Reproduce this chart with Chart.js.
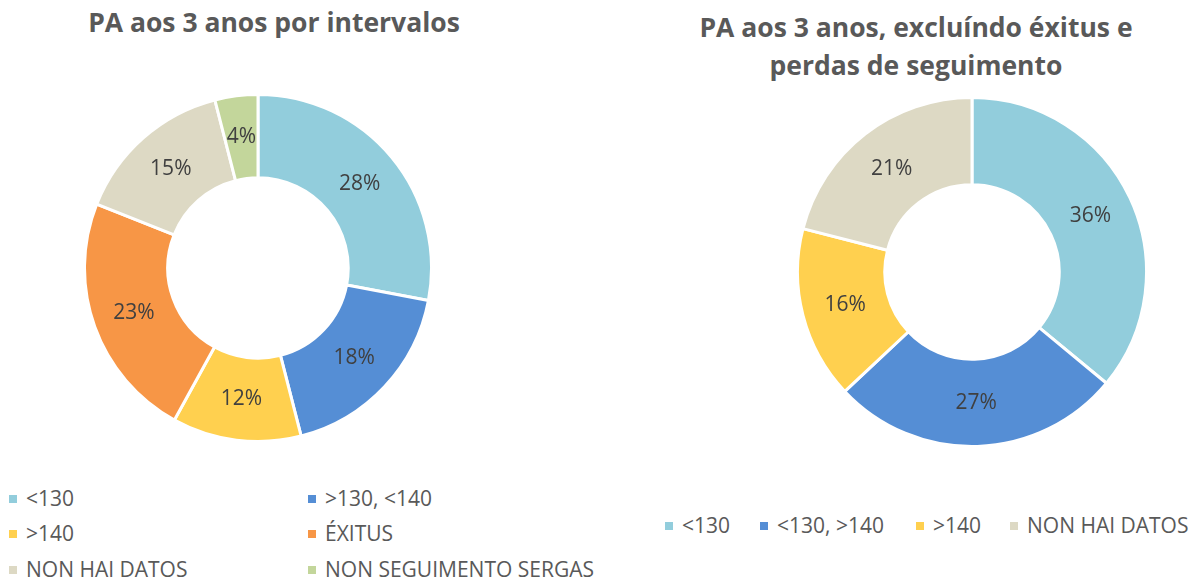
<!DOCTYPE html>
<html>
<head>
<meta charset="utf-8">
<script src="https://cdn.jsdelivr.net/npm/chart.js@4"></script>
<style>
  body { margin: 0; background: #fff; width: 1189px; height: 579px; position: relative; overflow: hidden;
         font-family: "Open Sans", "Noto Sans", sans-serif; color: #595959; }
  .title { position: absolute; font-weight: bold; font-size: 26.5px; color: #595959; text-align: center; line-height: 38px; white-space: nowrap; }
  .box { position: absolute; }
  .legend { position: absolute; font-size: 21px; color: #595959; }
  .legend .item { position: absolute; white-space: nowrap; line-height: 28px; }
  .legend .sw { display: inline-block; width: 8px; height: 8px; margin-right: 9px; vertical-align: 3px; }
</style>
</head>
<body>
<div class="title" id="title-left" style="left:24px; top:3px; width:500px;"></div>
<div class="title" id="title-right" style="left:666px; top:8px; width:500px;"></div>
<div class="box" style="left:83px; top:93px; width:350px; height:350px;"><canvas id="left-chart"></canvas></div>
<div class="box" style="left:796px; top:96px; width:352px; height:352px;"><canvas id="right-chart"></canvas></div>
<div class="legend" id="legend-left"></div>
<div class="legend" id="legend-right"></div>

<script>
// Chart data
const leftTitle = 'PA aos 3 anos por intervalos';
const leftLabels = ['<130', '>130, <140', '>140', 'ÉXITUS', 'NON HAI DATOS', 'NON SEGUIMENTO SERGAS'];
const leftValues = [28, 18, 12, 23, 15, 4];
const leftColors = ['#92CDDC', '#558ED5', '#FFD04F', '#F79646', '#DDD9C4', '#C3D69B'];

const rightTitle = 'PA aos 3 anos, excluíndo éxitus e<br>perdas de seguimento';
const rightLabels = ['<130', '<130, >140', '>140', 'NON HAI DATOS'];
const rightValues = [36, 27, 16, 21];
const rightColors = ['#92CDDC', '#558ED5', '#FFD04F', '#DDD9C4'];

// Draw the percentage in the middle of each slice
const sliceLabels = {
    id: 'sliceLabels',
    afterDatasetsDraw(chart) {
        const ctx = chart.ctx;
        const values = chart.data.datasets[0].data;
        ctx.save();
        ctx.font = '21px "Open Sans", sans-serif';
        ctx.fillStyle = '#404040';
        ctx.textAlign = 'center';
        ctx.textBaseline = 'middle';
        chart.getDatasetMeta(0).data.forEach((arc, i) => {
            const p = arc.tooltipPosition();
            ctx.fillText(values[i] + '%', p.x, p.y);
        });
        ctx.restore();
    }
};

function makeDoughnut(id, labels, values, colors, cutout) {
    new Chart(document.getElementById(id), {
        type: 'doughnut',
        data: {
            labels: labels,
            datasets: [{
                data: values,
                backgroundColor: colors,
                borderColor: '#ffffff',
                borderWidth: 3
            }]
        },
        options: {
            responsive: true,
            maintainAspectRatio: false,
            animation: false,
            cutout: cutout,
            layout: { padding: 0 },
            plugins: {
                legend: { display: false },
                tooltip: { enabled: false }
            }
        },
        plugins: [sliceLabels]
    });
}

function makeLegend(id, labels, colors, positions) {
    const el = document.getElementById(id);
    labels.forEach((label, i) => {
        const item = document.createElement('div');
        item.className = 'item';
        item.style.left = positions[i][0] + 'px';
        item.style.top = (positions[i][1] - 14) + 'px';
        const sw = document.createElement('span');
        sw.className = 'sw';
        sw.style.background = colors[i];
        item.appendChild(sw);
        item.appendChild(document.createTextNode(label));
        el.appendChild(item);
    });
}

document.getElementById('title-left').textContent = leftTitle;
document.getElementById('title-right').innerHTML = rightTitle;

makeDoughnut('left-chart', leftLabels, leftValues, leftColors, '52%');
makeDoughnut('right-chart', rightLabels, rightValues, rightColors, '50%');

makeLegend('legend-left', leftLabels, leftColors, [
    [9, 498], [308, 498], [9, 533], [308, 533], [9, 569], [308, 569]
]);
makeLegend('legend-right', rightLabels, rightColors, [
    [665, 525], [760, 525], [916, 525], [1010, 525]
]);
</script>
</body>
</html>
